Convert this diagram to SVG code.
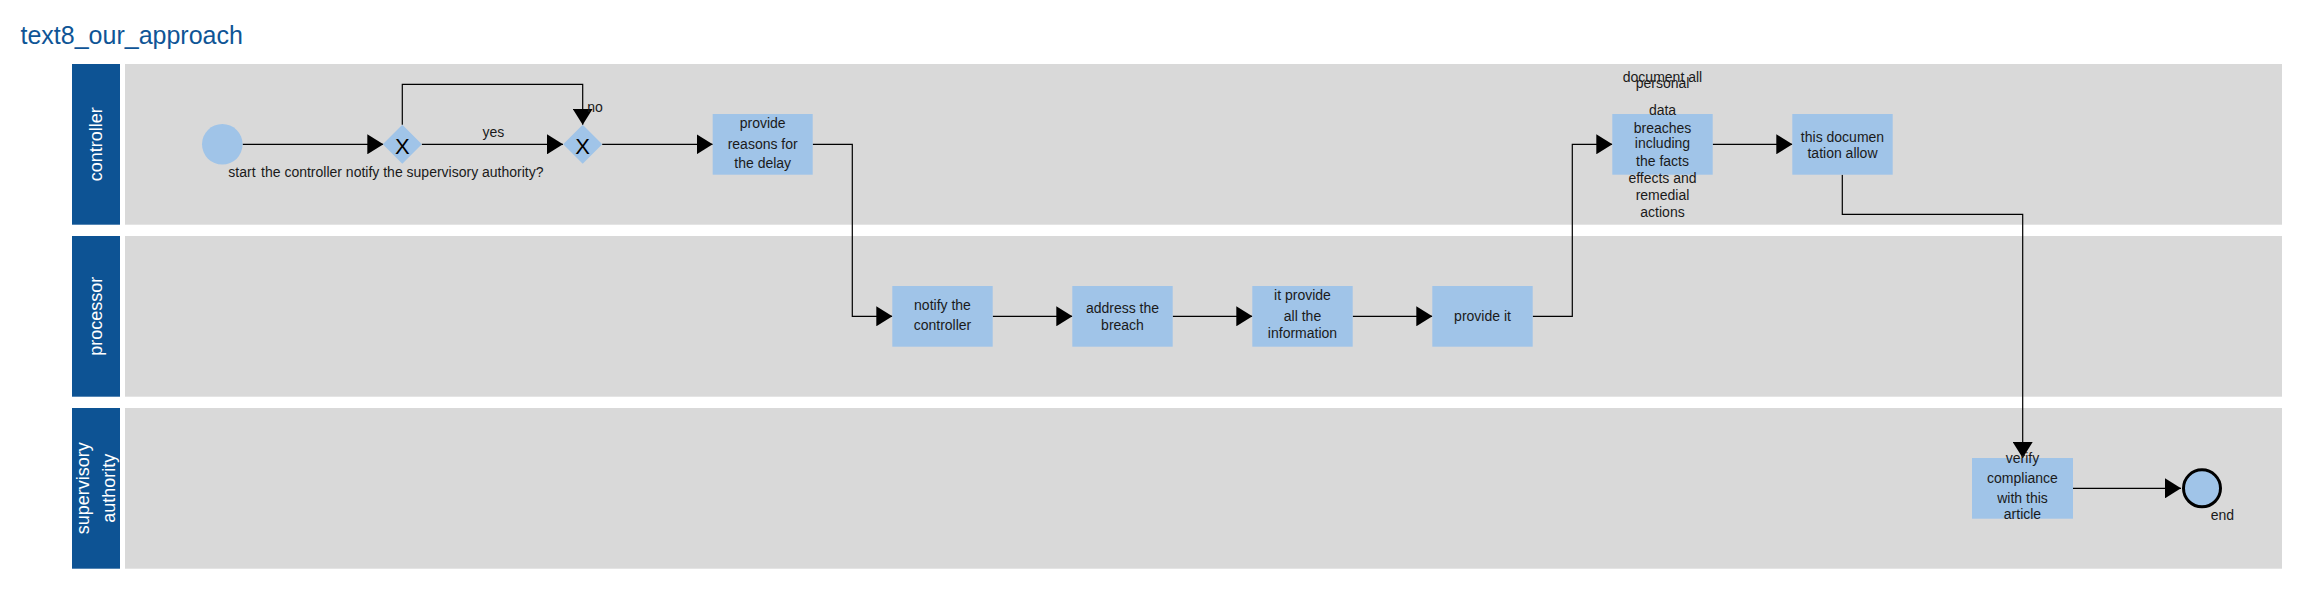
<svg xmlns="http://www.w3.org/2000/svg" width="2299" height="610" viewBox="0 0 2299 610">
<style>
.lanehead{fill:#0d5394}
.lane{fill:#d9d9d9}
.lt{font-family:"Liberation Sans",Arial,sans-serif;font-size:18px;fill:#ffffff;text-anchor:middle}
.box{fill:#a0c4e8}
.t{font-family:"Liberation Sans",Arial,sans-serif;font-size:14px;fill:#1a1a1a;text-anchor:middle}
.tl{font-family:"Liberation Sans",Arial,sans-serif;font-size:14px;fill:#1a1a1a}
.gx{font-family:"Liberation Sans",Arial,sans-serif;font-size:22px;fill:#000000;text-anchor:middle}
.c{fill:none;stroke:#000000;stroke-width:1.2}
</style>
<defs>
<marker id="arr" markerUnits="userSpaceOnUse" markerWidth="16" markerHeight="20" refX="16" refY="10" orient="auto">
<path d="M0,0 L16,10 L0,20 z" fill="#000000"/>
</marker>
</defs>
<rect width="2299" height="610" fill="#ffffff"/>
<text x="20.5" y="44" font-family="Liberation Sans,Arial,sans-serif" font-size="25" fill="#0f5596">text8_our_approach</text>

<g id="lane-controller">
<rect class="lanehead" x="72" y="64" width="48" height="160.7"/>
<rect class="lane" x="125" y="64" width="2157" height="160.7"/>
<text class="lt" transform="translate(96,144.3) rotate(-90)" y="6">controller</text>
</g>
<g id="lane-processor">
<rect class="lanehead" x="72" y="236" width="48" height="160.7"/>
<rect class="lane" x="125" y="236" width="2157" height="160.7"/>
<text class="lt" transform="translate(96,316.3) rotate(-90)" y="6">processor</text>
</g>
<g id="lane-supervisory">
<rect class="lanehead" x="72" y="408" width="48" height="160.7"/>
<rect class="lane" x="125" y="408" width="2157" height="160.7"/>
<text class="lt" transform="translate(96,488.3) rotate(-90)"><tspan x="0" y="-7">supervisory</tspan><tspan x="0" y="19">authority</tspan></text>
</g>

<g id="connectors">
<path class="c" d="M242.6,144.3 L383.3,144.3" marker-end="url(#arr)"/>
<path class="c" d="M421.8,144.3 L563,144.3" marker-end="url(#arr)"/>
<path class="c" d="M402.3,124.8 L402.3,84.3 L582.7,84.3 L582.7,124.8" marker-end="url(#arr)"/>
<path class="c" d="M602.2,144.3 L712.7,144.3" marker-end="url(#arr)"/>
<path class="c" d="M812.7,144.3 L852.3,144.3 L852.3,316.3 L892.3,316.3" marker-end="url(#arr)"/>
<path class="c" d="M992.7,316.3 L1072.3,316.3" marker-end="url(#arr)"/>
<path class="c" d="M1172.7,316.3 L1252.3,316.3" marker-end="url(#arr)"/>
<path class="c" d="M1352.7,316.3 L1432.3,316.3" marker-end="url(#arr)"/>
<path class="c" d="M1532.7,316.3 L1572.3,316.3 L1572.3,144.3 L1612.3,144.3" marker-end="url(#arr)"/>
<path class="c" d="M1712.7,144.3 L1792.3,144.3" marker-end="url(#arr)"/>
<path class="c" d="M1842.3,174.7 L1842.3,214.3 L2022.7,214.3 L2022.7,458" marker-end="url(#arr)"/>
<path class="c" d="M2073,488.3 L2181,488.3" marker-end="url(#arr)"/>
<text class="t" x="493.3" y="136.7">yes</text>
<text class="tl" x="587.3" y="111.7">no</text>
</g>

<g id="start">
<circle cx="222.3" cy="144.3" r="20.3" fill="#a0c4e8"/>
<text class="tl" x="228.3" y="176.7">start</text>
</g>
<g id="gateway1">
<polygon class="box" points="402.3,124.8 421.8,144.3 402.3,163.8 382.8,144.3"/>
<text class="gx" x="402.3" y="154.3">X</text>
<text class="t" x="402.3" y="176.7">the controller notify the supervisory authority?</text>
</g>
<g id="gateway2">
<polygon class="box" points="582.7,124.8 602.2,144.3 582.7,163.8 563.2,144.3"/>
<text class="gx" x="582.7" y="154.3">X</text>
</g>
<g id="provide-reasons">
<rect class="box" x="712.7" y="114" width="100" height="60.7"/>
<text class="t" x="762.7" y="128.3">provide</text>
<text class="t" x="762.7" y="149.3">reasons for</text>
<text class="t" x="762.7" y="168.3">the delay</text>
</g>
<g id="notify-controller">
<rect class="box" x="892.3" y="286" width="100.4" height="60.7"/>
<text class="t" x="942.5" y="310">notify the</text>
<text class="t" x="942.5" y="330">controller</text>
</g>
<g id="address-breach">
<rect class="box" x="1072.3" y="286" width="100.4" height="60.7"/>
<text class="t" x="1122.5" y="313.3">address the</text>
<text class="t" x="1122.5" y="330">breach</text>
</g>
<g id="it-provide">
<rect class="box" x="1252.3" y="286" width="100.4" height="60.7"/>
<text class="t" x="1302.5" y="300">it provide</text>
<text class="t" x="1302.5" y="320.7">all the</text>
<text class="t" x="1302.5" y="337.7">information</text>
</g>
<g id="provide-it">
<rect class="box" x="1432.3" y="286" width="100.4" height="60.7"/>
<text class="t" x="1482.5" y="320.7">provide it</text>
</g>
<g id="document-all">
<rect class="box" x="1612.3" y="114" width="100.4" height="60.7"/>
<text class="t" x="1662.5" y="81.7">document all</text>
<text class="t" x="1662.5" y="88.3">personal</text>
<text class="t" x="1662.5" y="115">data</text>
<text class="t" x="1662.5" y="132.7">breaches</text>
<text class="t" x="1662.5" y="148.3">including</text>
<text class="t" x="1662.5" y="166">the facts</text>
<text class="t" x="1662.5" y="182.7">effects and</text>
<text class="t" x="1662.5" y="200">remedial</text>
<text class="t" x="1662.5" y="216.7">actions</text>
</g>
<g id="this-documentation">
<rect class="box" x="1792.3" y="114" width="100.4" height="60.7"/>
<text class="t" x="1842.5" y="141.7">this documen</text>
<text class="t" x="1842.5" y="158.3">tation allow</text>
</g>
<g id="verify-compliance">
<rect class="box" x="1972" y="458" width="101" height="60.7"/>
<text class="t" x="2022.5" y="463">verify</text>
<text class="t" x="2022.5" y="482.7">compliance</text>
<text class="t" x="2022.5" y="502.7">with this</text>
<text class="t" x="2022.5" y="519">article</text>
</g>
<g id="end">
<circle cx="2202" cy="488.3" r="18.5" fill="#a0c4e8" stroke="#000000" stroke-width="3"/>
<text class="tl" x="2210.7" y="520">end</text>
</g>
</svg>
